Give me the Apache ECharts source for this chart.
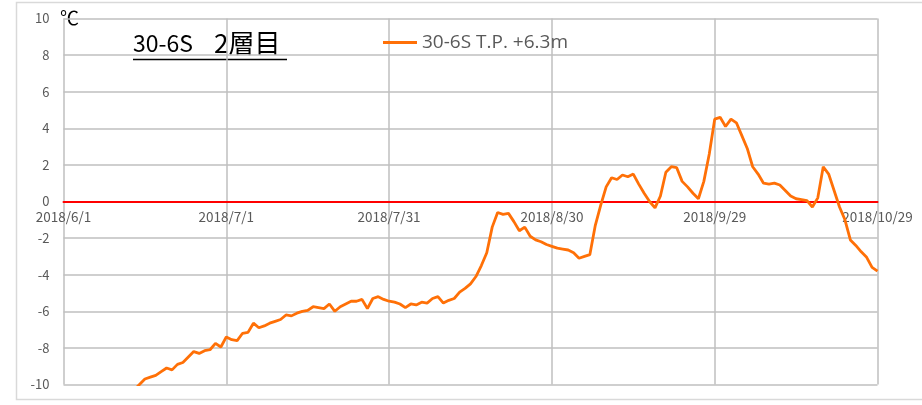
<!DOCTYPE html>
<html>
<head>
<meta charset="utf-8">
<script src="https://cdn.jsdelivr.net/npm/echarts@6/dist/echarts.min.js"></script>
<style>
  html, body { margin: 0; padding: 0; background: #fff; }
  #main { width: 922px; height: 405px; }
</style>
</head>
<body>
<div id="main"></div>
<script>
// 日付ラベル(6/1 から 30日ごと)
const tickLabels = ['2018/6/1', '2018/7/1', '2018/7/31', '2018/8/30', '2018/9/29', '2018/10/29'];
// 6/1 からの日数で最初のデータ日
const firstDay = 13;
// 日ごとの温度 (℃)
const temps = [
  -10.3, -10.0, -9.7, -9.6, -9.5, -9.3, -9.1, -9.2, -8.9, -8.8,
  -8.5, -8.2, -8.3, -8.15, -8.1, -7.75, -7.95, -7.4, -7.55, -7.6,
  -7.2, -7.15, -6.65, -6.9, -6.8, -6.65, -6.55, -6.45, -6.2, -6.25,
  -6.1, -6.0, -5.95, -5.75, -5.8, -5.85, -5.6, -6.0, -5.75, -5.6,
  -5.45, -5.45, -5.35, -5.85, -5.3, -5.2, -5.35, -5.45, -5.5, -5.6,
  -5.8, -5.6, -5.65, -5.5, -5.55, -5.3, -5.2, -5.55, -5.4, -5.3,
  -4.95, -4.75, -4.5, -4.1, -3.5, -2.8, -1.4, -0.6, -0.7, -0.65,
  -1.1, -1.6, -1.4, -1.9, -2.1, -2.2, -2.35, -2.45, -2.55, -2.6,
  -2.65, -2.8, -3.1, -3.0, -2.9, -1.3, -0.2, 0.8, 1.3, 1.2,
  1.45, 1.35, 1.5, 0.95, 0.45, 0.0, -0.35, 0.3, 1.6, 1.9,
  1.85, 1.1, 0.8, 0.45, 0.15, 1.1, 2.6, 4.5, 4.6, 4.1,
  4.5, 4.3, 3.6, 2.9, 1.9, 1.5, 1.0, 0.95, 1.0, 0.9,
  0.6, 0.3, 0.15, 0.1, 0.05, -0.3, 0.2, 1.9, 1.5, 0.6,
  -0.3, -1.0, -2.1, -2.4, -2.75, -3.05, -3.6, -3.8
];
const seriesName = '30-6S T.P. +6.3m';

const myChart = echarts.init(document.getElementById('main'));
const font = '"Noto Sans CJK JP", "Noto Sans", sans-serif';
const gridTop = 18.5, gridBottom = 20.5;
const plotH = 405 - gridTop - gridBottom;

const option = {
  animation: false,
  textStyle: { fontFamily: font },
  grid: { left: 63.5, right: 44.5, top: gridTop, bottom: gridBottom },
  legend: {
    left: 378,
    top: 28,
    icon: 'rect',
    itemWidth: 34,
    itemHeight: 3,
    itemGap: 4,
    textStyle: { color: '#595959', fontSize: 19, fontFamily: '"Open Sans", sans-serif' },
    data: [seriesName]
  },
  xAxis: {
    type: 'value',
    min: 0,
    max: 150,
    interval: 30,
    // 0℃ の位置に軸を移す
    offset: -plotH / 2,
    axisLine: { onZero: false, lineStyle: { color: '#ff0000', width: 2 } },
    axisTick: { show: false },
    axisLabel: {
      color: '#595959',
      fontSize: 13.5,
      margin: 9,
      formatter: v => tickLabels[Math.round(v / 30)]
    },
    splitLine: { show: true, lineStyle: { color: '#bfbfbf', width: 1.5 } }
  },
  yAxis: {
    type: 'value',
    min: -10,
    max: 10,
    interval: 2,
    axisLine: { show: false },
    axisTick: { show: false },
    axisLabel: { color: '#595959', fontSize: 13, margin: 14 },
    splitLine: { lineStyle: { color: '#bfbfbf', width: 1.5 } }
  },
  graphic: [
    {
      type: 'rect',
      shape: { x: 16.5, y: 2.5, width: 1000, height: 397 },
      style: { fill: 'none', stroke: '#d9d9d9', lineWidth: 1.5 },
      silent: true
    },
    {
      type: 'text',
      left: 60,
      top: 8,
      style: { text: '℃', fill: '#000', font: '19px ' + font }
    },
    {
      type: 'text',
      left: 133,
      top: 32,
      style: { text: '30-6S', fill: '#000', font: '23px ' + font }
    },
    {
      type: 'text',
      left: 214,
      top: 30,
      style: { text: '2層目', fill: '#000', font: '26px ' + font }
    },
    {
      type: 'line',
      shape: { x1: 133, y1: 59.5, x2: 287, y2: 59.5 },
      style: { stroke: '#000', lineWidth: 1.5 }
    }
  ],
  series: [
    {
      name: seriesName,
      type: 'line',
      symbol: 'none',
      clip: true,
      lineStyle: { color: '#ff7007', width: 2.8 },
      itemStyle: { color: '#ff7007' },
      data: temps.map((t, i) => [firstDay + i, t])
    }
  ]
};
myChart.setOption(option);
</script>
</body>
</html>
